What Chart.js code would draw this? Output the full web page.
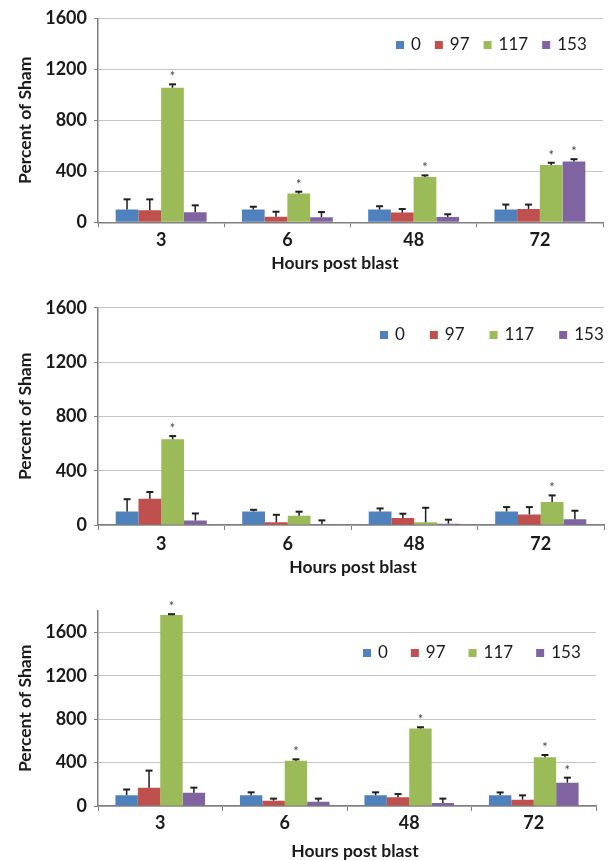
<!DOCTYPE html>
<html>
<head>
<meta charset="utf-8">
<script src="https://cdn.jsdelivr.net/npm/chart.js@4/dist/chart.umd.min.js"></script>
<style>
  html, body { margin: 0; padding: 0; background: #ffffff; }
  body { width: 608px; height: 860px; position: relative; overflow: hidden; }
  canvas { position: absolute; left: 0; }
</style>
</head>
<body>
<canvas id="c1" width="608" height="290" style="top:0px"></canvas>
<canvas id="c2" width="608" height="290" style="top:290px"></canvas>
<canvas id="c3" width="608" height="280" style="top:580px"></canvas>
<script>
// Categories and series
const hours = ['3', '6', '48', '72'];
const doses = ['0', '97', '117', '153'];
const doseColors = ['#4F81BD', '#C0504D', '#9BBB59', '#8064A2'];
const yTicksStep = 400;

// Panel 1 means and upper error bars (percent of sham)
const p1Dose0   = [100, 100, 100, 100];
const p1Dose97  = [95, 44, 76, 105];
const p1Dose117 = [1055, 225, 355, 450];
const p1Dose153 = [78, 40, 42, 477];
const p1Err0    = [80, 22, 26, 39];
const p1Err97   = [85, 39, 28, 34];
const p1Err117  = [27, 15, 13, 17];
const p1Err153  = [55, 40, 21, 18];
const p1Sig117  = [1, 1, 1, 1];
const p1Sig153  = [0, 0, 0, 1];

// Panel 2
const p2Dose0   = [100, 100, 100, 100];
const p2Dose97  = [193, 20, 51, 78];
const p2Dose117 = [631, 68, 20, 169];
const p2Dose153 = [33, 5, 10, 42];
const p2Err0    = [90, 12, 22, 32];
const p2Err97   = [50, 55, 32, 54];
const p2Err117  = [24, 30, 107, 49];
const p2Err153  = [52, 29, 29, 63];
const p2Sig117  = [1, 0, 0, 1];
const p2Sig153  = [0, 0, 0, 0];

// Panel 3
const p3Dose0   = [100, 100, 100, 100];
const p3Dose97  = [169, 49, 80, 58];
const p3Dose117 = [1760, 418, 714, 449];
const p3Dose153 = [123, 40, 28, 215];
const p3Err0    = [52, 26, 26, 25];
const p3Err97   = [157, 19, 30, 40];
const p3Err117  = [8, 12, 12, 21];
const p3Err153  = [46, 28, 40, 46];
const p3Sig117  = [1, 1, 1, 1];
const p3Sig153  = [0, 0, 0, 1];

const none = [0, 0, 0, 0];
const FONT = 'Lato, "Open Sans", sans-serif';
const INK = '#1a1a1a';
const AXIS = '#7f7f7f';

function makeChart(id, cfg) {
  const datasets = cfg.means.map((m, i) => ({
    label: doses[i],
    data: m,
    backgroundColor: doseColors[i],
    borderWidth: 0,
    categoryPercentage: 0.72,
    barPercentage: 1.0
  }));

  // error bars, significance marks, legend and x title
  const overlay = {
    id: 'overlay_' + id,
    afterDatasetsDraw(chart) {
      const ctx = chart.ctx;
      const ys = chart.scales.y;
      ctx.save();
      chart.data.datasets.forEach((ds, i) => {
        const meta = chart.getDatasetMeta(i);
        meta.data.forEach((bar, j) => {
          const top = ys.getPixelForValue(ds.data[j] + cfg.errors[i][j]);
          ctx.strokeStyle = '#1e1e1e';
          ctx.lineWidth = 1.5;
          ctx.beginPath();
          ctx.moveTo(bar.x, bar.y);
          ctx.lineTo(bar.x, top);
          ctx.stroke();
          ctx.lineWidth = 2;
          ctx.beginPath();
          ctx.moveTo(bar.x - 3.5, top);
          ctx.lineTo(bar.x + 3.5, top);
          ctx.stroke();
          if (cfg.stars[i][j]) {
            ctx.fillStyle = '#444444';
            ctx.font = '13px ' + FONT;
            ctx.textAlign = 'center';
            ctx.textBaseline = 'alphabetic';
            ctx.fillText('*', bar.x, top - 3);
          }
        });
      });
      ctx.restore();
    },
    afterDraw(chart) {
      const ctx = chart.ctx;
      ctx.save();
      // legend
      ctx.font = '17px ' + FONT;
      ctx.textBaseline = 'middle';
      ctx.textAlign = 'left';
      let x = cfg.legendX;
      chart.data.datasets.forEach((ds) => {
        ctx.fillStyle = ds.backgroundColor;
        ctx.fillRect(x, cfg.legendY - 4, 8, 8);
        x += 8 + 7;
        ctx.fillStyle = INK;
        ctx.fillText(ds.label, x, cfg.legendY);
        x += ctx.measureText(ds.label).width + cfg.legendGap;
      });
      // x axis title
      ctx.font = 'bold 17.5px ' + FONT;
      ctx.textAlign = 'center';
      ctx.fillStyle = INK;
      ctx.fillText('Hours post blast', cfg.titleX, cfg.titleY);
      ctx.restore();
    }
  };

  return new Chart(document.getElementById(id), {
    type: 'bar',
    data: { labels: hours, datasets },
    plugins: [overlay],
    options: {
      responsive: false,
      animation: false,
      layout: { padding: { left: 0, right: cfg.padRight, top: cfg.padTop, bottom: 0 } },
      plugins: { legend: { display: false }, tooltip: { enabled: false } },
      scales: {
        x: {
          grid: { display: true, drawOnChartArea: false, drawTicks: true, tickLength: 5, tickColor: AXIS, offset: true },
          border: { color: AXIS, width: 1.5 },
          ticks: { color: INK, font: { family: FONT, size: 18, weight: 'bold' }, padding: cfg.xTickPad, maxRotation: 0 },
          afterFit(s) { s.height = cfg.xAxisHeight; }
        },
        y: {
          min: 0,
          max: cfg.yMax,
          grid: { color: '#c4c4c4', lineWidth: 1, tickLength: 4, tickColor: AXIS },
          border: { color: AXIS, width: 1.5 },
          ticks: {
            stepSize: yTicksStep, includeBounds: false, color: INK,
            font: { family: FONT, size: 18, weight: 'bold' }, padding: 7,
            callback: (v) => String(v)
          },
          title: { display: true, text: 'Percent of Sham', color: INK, font: { family: FONT, size: 17.5, weight: 'bold' }, padding: { top: 15, bottom: 0 } },
          afterFit(s) { s.width = 98; }
        }
      }
    }
  });
}

makeChart('c1', {
  means: [p1Dose0, p1Dose97, p1Dose117, p1Dose153],
  errors: [p1Err0, p1Err97, p1Err117, p1Err153],
  stars: [none, none, p1Sig117, p1Sig153],
  yMax: 1600, padTop: 18.3, padRight: 5, xAxisHeight: 67.7, xTickPad: 2,
  legendX: 396, legendY: 45, legendGap: 14, titleX: 335, titleY: 263
});

makeChart('c2', {
  means: [p2Dose0, p2Dose97, p2Dose117, p2Dose153],
  errors: [p2Err0, p2Err97, p2Err117, p2Err153],
  stars: [none, none, p2Sig117, p2Sig153],
  yMax: 1600, padTop: 16.7, padRight: 4, xAxisHeight: 55, xTickPad: 3.3,
  legendX: 380, legendY: 45, legendGap: 25, titleX: 353, titleY: 277
});

makeChart('c3', {
  means: [p3Dose0, p3Dose97, p3Dose117, p3Dose153],
  errors: [p3Err0, p3Err97, p3Err117, p3Err153],
  stars: [none, none, p3Sig117, p3Sig153],
  yMax: 1800, padTop: 30.7, padRight: 12, xAxisHeight: 54, xTickPad: 1,
  legendX: 363, legendY: 73, legendGap: 23, titleX: 355, titleY: 271
});
</script>
</body>
</html>
